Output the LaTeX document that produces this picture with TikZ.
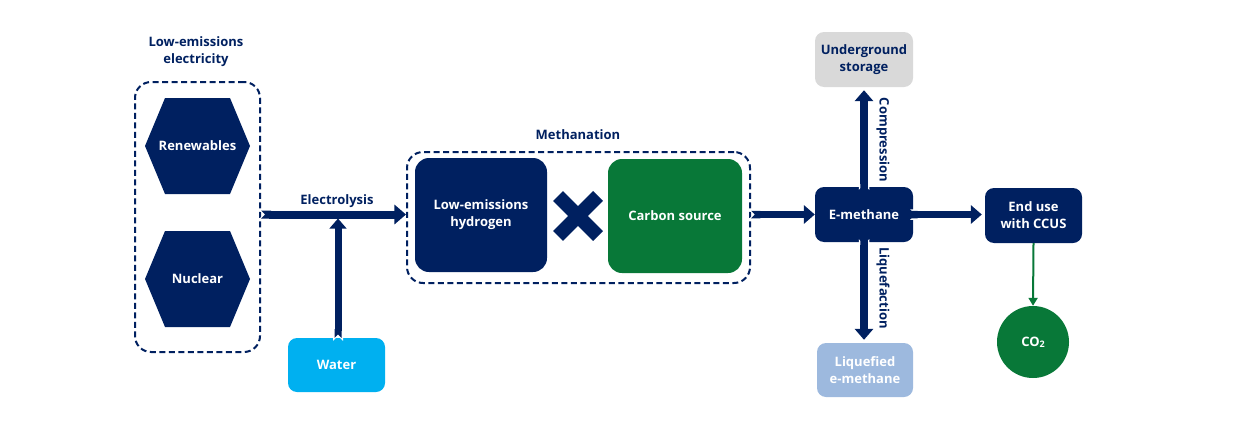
\documentclass[tikz,border=0pt]{standalone}
\usepackage{fontspec}
\setmainfont{Open Sans}
\usetikzlibrary{arrows.meta}
\definecolor{navy}{RGB}{0,32,96}
\definecolor{cgreen}{RGB}{8,120,56}
\definecolor{water}{RGB}{0,176,240}
\definecolor{lgray}{RGB}{217,217,217}
\definecolor{liq}{RGB}{157,185,222}
\tikzset{
  txt/.style={font=\fontsize{13}{17}\selectfont\bfseries, align=center},
  box/.style={txt, rectangle, rounded corners=9pt, inner sep=0pt, text=white, fill=navy},
  dbox/.style={draw=navy, line width=2pt, dash pattern=on 6pt off 3.5pt, rounded corners=16pt, inner sep=0pt},
  flow/.style={navy, line width=#1,
    {Triangle Cap[reversed]}-{Triangle[width=2.4*#1, length=1.45*#1]},
    preaction={draw=white, line width=#1+3pt, shorten <=-3pt, shorten >=1.45*#1,
      arrows={{Triangle Cap[reversed]}-}}},
  flow/.default=7.5pt,
  hexa/.style={fill=navy},
}
\begin{document}
\begin{tikzpicture}[x=1pt,y=-1pt]
\useasboundingbox (0,0) rectangle (1255,439);
% left group
\node[txt, text=navy] (lee) at (196,52) {Low-emissions\\electricity};
\node[dbox, minimum width=125pt, minimum height=270pt] (elec) at (197.5,217) {};
\fill[hexa] (145,146) -- (165,98) -- (230,98) -- (250,146) -- (230,194) -- (165,194) -- cycle;
\node[txt, text=white] (ren) at (197.5,146) {Renewables};
\fill[hexa] (145,279) -- (165,231) -- (230,231) -- (250,279) -- (230,327) -- (165,327) -- cycle;
\node[txt, text=white] (nuc) at (197.5,279) {Nuclear};
% water
\node[box, fill=water, minimum width=97pt, minimum height=54pt] (water) at (336.5,365) {Water};
% methanation
\node[txt, text=navy] (methl) at (578,135) {Methanation};
\node[dbox, minimum width=343pt, minimum height=131pt] (meth) at (578.5,217.5) {};
\node[box, rounded corners=14pt, minimum width=132pt, minimum height=114pt] (hyd) at (481,215) {Low-emissions\\hydrogen};
\node[box, rounded corners=14pt, fill=cgreen, minimum width=134pt, minimum height=114pt] (carb) at (675,216) {Carbon source};
\draw[navy, line width=14pt] (558,196) -- (598,236) (598,196) -- (558,236);
% right part
\node[box, minimum width=98pt, minimum height=55pt] (em) at (864,214.5) {E-methane};
\node[box, minimum width=97pt, minimum height=55pt] (end) at (1033.5,215.5) {End use\\with CCUS};
\node[box, fill=lgray, text=navy, minimum width=98pt, minimum height=55pt] (ug) at (864,59.5) {Underground\\storage};
\node[box, fill=liq, minimum width=96pt, minimum height=54pt] (liq) at (865,370) {Liquefied\\e-methane};
\node[txt, circle, fill=cgreen, text=white, minimum size=72pt, inner sep=0pt] (co2) at (1033,342) {CO\raisebox{-1pt}{\fontsize{9}{9}\selectfont 2}};
% connectors
\coordinate (wj) at (338,218.5);
\draw[flow=8pt] (elec.east |- em.center) -- (meth.west |- em.center);
\node[txt, text=navy] (ely) at (337,201) {Electrolysis};
\draw[flow=7pt] (wj |- water.north) -- (wj);
\draw[flow] (meth.east |- em.center) -- (em.west);
\draw[flow, shorten <=-5pt, shorten >=3pt] (em.east) -- (end.west |- em.east);
\draw[flow, shorten <=-5pt, shorten >=3pt] (em.north) -- (ug.south);
\draw[flow, shorten <=-5pt, shorten >=3pt] (em.south) -- (em.south |- liq.north);
\node[txt, text=navy, rotate=-90] (comp) at (883,140) {Compression};
\node[txt, text=navy, rotate=-90] (liqf) at (883,288) {Liquefaction};
\draw[cgreen, line width=2pt, -{Triangle[width=9pt,length=8pt]}] (end.south) -- (co2.north);
\end{tikzpicture}
\end{document}
